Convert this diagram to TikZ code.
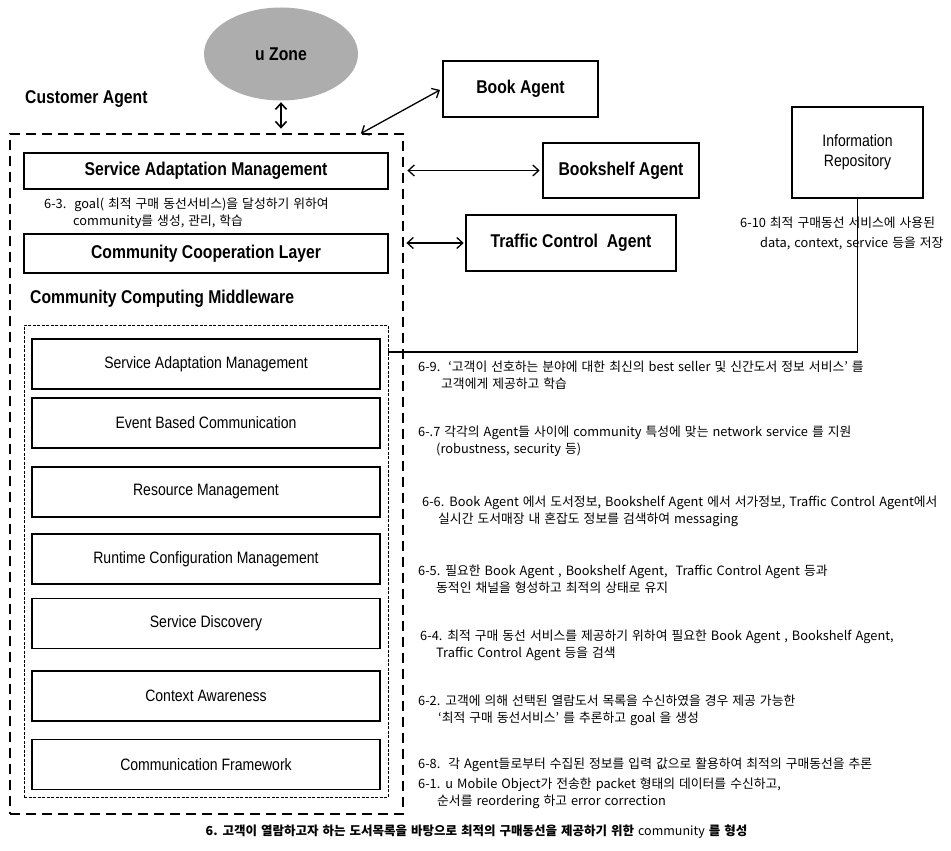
\documentclass[tikz,border=0pt]{standalone}
\usepackage{fontspec}
\setmainfont{Liberation Sans}
\newfontfamily\lab[FakeStretch=0.85]{Liberation Sans}
\newfontfamily\kr{Noto Sans CJK KR}
\usetikzlibrary{shapes.geometric,arrows.meta}
\definecolor{zonegray}{RGB}{173,173,173}
\begin{document}
\begin{tikzpicture}[x=1pt,y=-1pt,
  boldlab/.style={font=\lab\bfseries\fontsize{18.5}{20}\selectfont},
  reglab/.style={font=\lab\fontsize{16.5}{20}\selectfont},
  layerbox/.style={draw, line width=1.4pt, minimum width=364pt, inner sep=0pt, boldlab},
  modbox/.style={draw, line width=1.2pt, minimum width=348pt, minimum height=50pt, inner sep=0pt, reglab},
  agentbox/.style={draw, line width=2.6pt, inner sep=0pt, boldlab},
  annot/.style={font={\kr\fontsize{12.8}{17}\selectfont\spaceskip=4pt plus 1pt minus 1pt}, align=left, anchor=west, inner sep=0pt},
  barb/.tip={Straight Barb[length=6pt,width=11pt]},
  dbl/.style={barb-barb, line width=1.3pt},
]
\useasboundingbox (0,0) rectangle (951,851);

% u Zone
\node[ellipse, fill=zonegray, minimum width=154pt, minimum height=93pt, inner sep=0pt, boldlab] (uzone) at (281,54) {u Zone};

% labels
\node[boldlab, anchor=west, inner sep=0pt] (custlab) at (25,99) {Customer Agent};

% outer dashed customer agent box
\node[draw, line width=2.8pt, dash pattern=on 10pt off 6pt, minimum width=393pt, minimum height=680pt, inner sep=0pt] (outer) at (206.5,474) {};

% layers
\node[layerbox, minimum height=36pt] (sam) at (206,171) {Service Adaptation Management};
\node[annot] (n63) at (44,213.5) {6-3.\ \ goal( 최적 구매 동선서비스)을 달성하기 위하여\\\hspace*{29pt}community를 생성, 관리, 학습};
\node[layerbox, minimum height=39pt] (ccl) at (206,253.5) {Community Cooperation Layer};
\node[boldlab, anchor=west, inner sep=0pt] (ccmlab) at (30,299) {Community Computing Middleware};

% inner dashed middleware box
\node[draw, line width=1pt, dash pattern=on 3pt off 1.5pt, minimum width=364pt, minimum height=472pt, inner sep=0pt] (inner) at (206,561) {};

\node[modbox] (msam) at (206,364) {Service Adaptation Management};
\node[modbox] (ebc) at (206,423) {Event Based Communication};
\node[modbox] (rm) at (206,492) {Resource Management};
\node[modbox] (rcm) at (206,559) {Runtime Configuration Management};
\node[modbox] (sd) at (206,623.5) {Service Discovery};
\node[modbox] (ca) at (206,696) {Context Awareness};
\node[modbox] (cf) at (206,764.5) {Communication Framework};

% agents
\node[agentbox, minimum width=155pt, minimum height=56pt] (book) at (520.5,89) {Book Agent};
\node[agentbox, minimum width=156pt, minimum height=55pt] (shelf) at (621,170.5) {Bookshelf Agent};
\node[agentbox, minimum width=210pt, minimum height=56pt] (traffic) at (571,243) {Traffic Control\ \ Agent};
\node[draw, line width=1.5pt, minimum width=131pt, minimum height=91pt, inner sep=0pt, reglab, align=center] (info) at (857.5,152.5) {Information\\Repository};

% annotations
\node[annot, font={\kr\fontsize{12.8}{20}\selectfont\spaceskip=4pt plus 1pt minus 1pt}] (n610) at (740,233) {6-10 최적 구매동선 서비스에 사용된\\\hspace*{20pt}data, context, service 등을 저장};
\node[annot] (n69) at (418,375.5) {6-9.\ \ ‘고객이 선호하는 분야에 대한 최신의 best seller 및 신간도서 정보 서비스’ 를\\\hspace*{23pt}고객에게 제공하고 학습};
\node[annot] (n67) at (418,441.5) {6-.7 각각의 Agent들 사이에 community 특성에 맞는 network service 를 지원\\\hspace*{18pt}(robustness, security 등)};
\node[annot] (n66) at (422,511.5) {6-6. Book Agent 에서 도서정보, Bookshelf Agent 에서 서가정보, Traffic Control Agent에서\\\hspace*{16pt}실시간 도서매장 내 혼잡도 정보를 검색하여 messaging};
\node[annot] (n65) at (418,579) {6-5. 필요한 Book Agent , Bookshelf Agent,\ \ Traffic Control Agent 등과\\\hspace*{18pt}동적인 채널을 형성하고 최적의 상태로 유지};
\node[annot] (n64) at (420,645) {6-4. 최적 구매 동선 서비스를 제공하기 위하여 필요한 Book Agent , Bookshelf Agent,\\\hspace*{16pt}Traffic Control Agent 등을 검색};
\node[annot] (n62) at (418,710.5) {6-2. 고객에 의해 선택된 열람도서 목록을 수신하였을 경우 제공 가능한\\\hspace*{20pt}‘최적 구매 동선서비스’ 를 추론하고 goal 을 생성};
\node[annot] (n68) at (418,765) {6-8.\ \ 각 Agent들로부터 수집된 정보를 입력 값으로 활용하여 최적의 구매동선을 추론};
\node[annot] (n61) at (418,793.5) {6-1. u Mobile Object가 전송한 packet 형태의 데이터를 수신하고,\\\hspace*{19pt}순서를 reordering 하고 error correction};

\node[font={\kr\bfseries\fontsize{12.5}{14}\selectfont\spaceskip=4pt plus 1pt minus 1pt}, inner sep=0pt] (caption) at (476.5,832) {6. 고객이 열람하고자 하는 도서목록을 바탕으로 최적의 구매동선을 제공하기 위한 {\mdseries community} 를 형성};

% connectors
\coordinate (obook) at (360,134);
\coordinate (orepo) at (388,352);
\draw[dbl, line width=1.6pt, shorten <=1.5pt, shorten >=4pt] (uzone.south) -- (uzone.south |- outer.north);
\draw[dbl, shorten <=2pt, shorten >=1pt] (book.west) -- (obook);
\draw[dbl, shorten <=2pt, shorten >=3pt] (shelf.west) -- (shelf.west -| outer.east);
\draw[dbl, shorten <=1pt, shorten >=2pt] (traffic.west) -- (traffic.west -| outer.east);
\draw[line width=1.2pt] (info.south) |- (orepo);
\end{tikzpicture}
\end{document}
